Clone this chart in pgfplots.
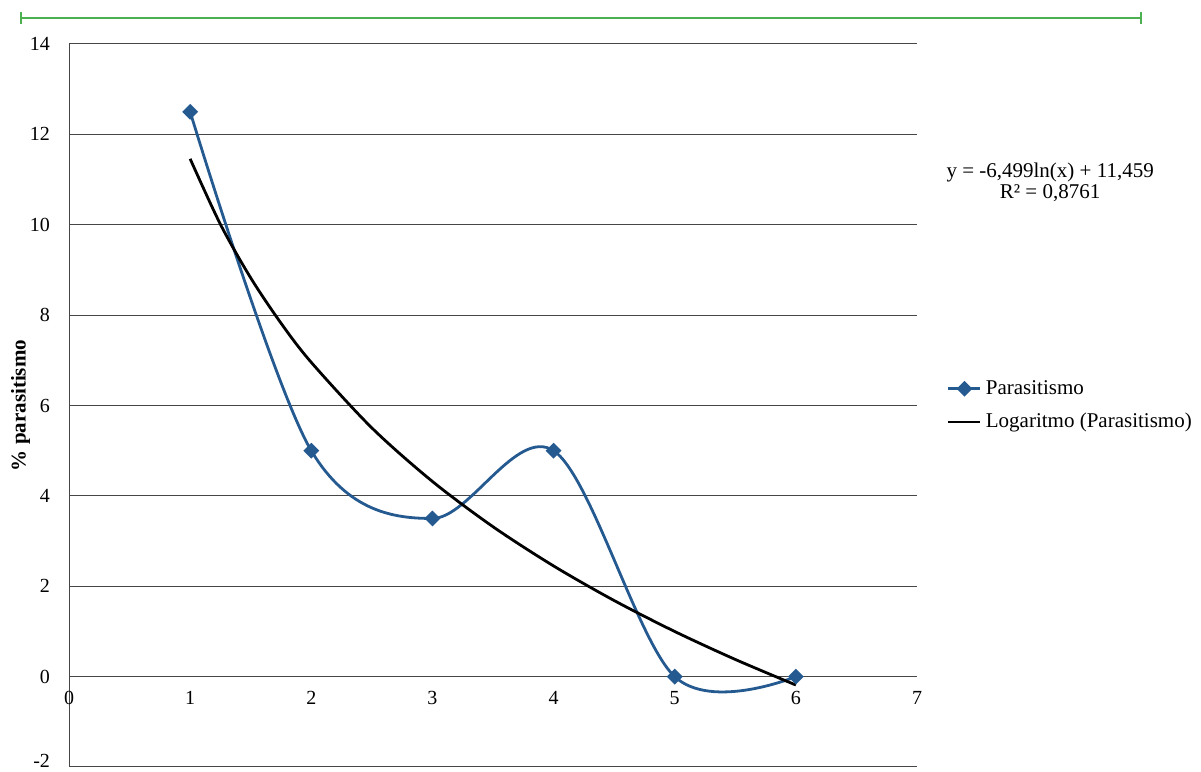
\documentclass[border=0pt]{standalone}
\usepackage{fontspec}
\setmainfont{Liberation Serif}
\usepackage{pgfplots}
\pgfplotsset{compat=1.18}
\definecolor{serblue}{RGB}{37,90,145}
\definecolor{gridc}{RGB}{70,70,70}
\definecolor{topgreen}{RGB}{76,175,80}
\begin{document}
\begin{tikzpicture}
\useasboundingbox (0,0) rectangle (600.5pt,386pt);
\draw[topgreen, line width=1.2pt] (10.5pt,377pt) -- (570.5pt,377pt);
\draw[topgreen, line width=0.8pt] (10.5pt,374pt) -- (10.5pt,380pt);
\draw[topgreen, line width=0.8pt] (570.5pt,374pt) -- (570.5pt,380pt);
\begin{axis}[
  at={(34.5pt,2.5pt)}, anchor=south west,
  scale only axis, width=424pt, height=361.5pt,
  xmin=0, xmax=7, ymin=-2, ymax=14,
  axis y line=left, axis x line=middle,
  axis line style={-, gridc, line width=0.5pt},
  xtick={0,1,...,7}, ytick={0,2,...,14},
  extra y ticks={-2},
  extra y tick style={grid=major, yticklabel style={yshift=3pt}},
  hide obscured x ticks=false, hide obscured y ticks=false,
  major tick length=0pt,
  ymajorgrids, grid style={gridc, line width=0.5pt},
  /pgf/number format/assume math mode=true,
  tick label style={font=\fontsize{10}{12}\selectfont},
  xticklabel style={yshift=-4pt},
  yticklabel style={xshift=-6pt},
  ylabel={\% parasitismo},
  ylabel style={at={(axis description cs:-0.057,0.5)}, anchor=center, font=\fontsize{10.5}{12}\selectfont\bfseries},
  legend style={at={(1.035,0.5)}, anchor=west, draw=none, fill=none,
    font=\fontsize{10.5}{12}\selectfont, row sep=4pt, inner sep=0pt},
  legend cell align=left,
  legend image code/.code={\draw[#1] (0pt,0pt) -- (16pt,0pt); \draw[#1, mark repeat=2, mark phase=2] plot coordinates {(0pt,0pt) (8pt,0pt) (16pt,0pt)};},
  clip=false,
]
\addplot[serblue, line width=1.4pt, smooth, tension=0.55, mark=square*, mark size=2.1pt,
  mark options={fill=serblue, solid, rotate=45}] coordinates {
  (1,12.5) (2,5) (3,3.5) (4,5) (5,0) (6,0)};
\addlegendentry{Parasitismo}
\addplot[black, line width=1.4pt, smooth, no marks] coordinates {
  (1,11.459) (1.25,10.009) (1.5,8.824) (1.75,7.822) (2,6.954) (2.5,5.504)
  (3,4.319) (3.5,3.317) (4,2.4495) (4.5,1.684) (5,0.999) (5.5,0.380) (6,-0.186)};
\addlegendentry{Logaritmo (Parasitismo)}
\node[align=center, font=\fontsize{10.5}{10.5}\selectfont] at (rel axis cs:1.157,0.809)
  {y = -6,499ln(x) + 11,459\\R² = 0,8761};
\end{axis}
\end{tikzpicture}
\end{document}
